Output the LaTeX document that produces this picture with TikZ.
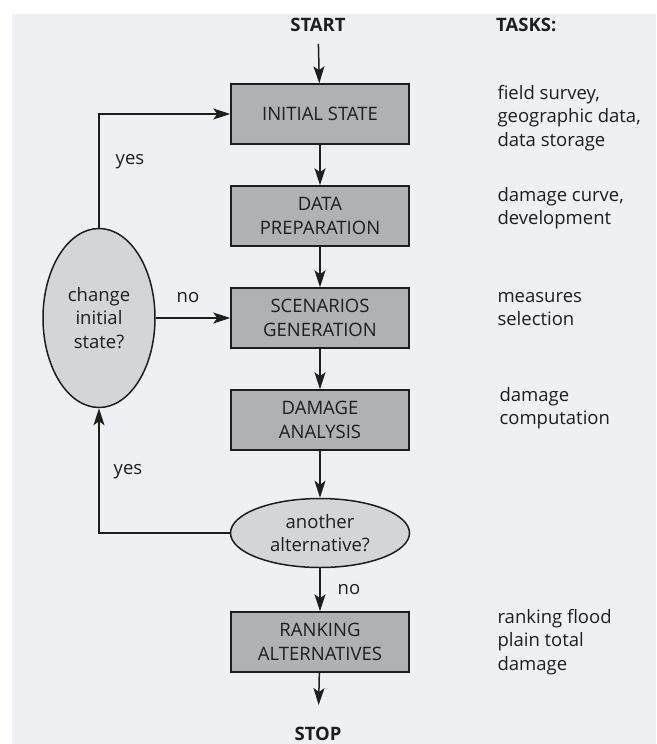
\documentclass[tikz,border=0pt]{standalone}
\usepackage{fontspec}
\setmainfont{Open Sans}
\usetikzlibrary{arrows.meta,shapes.geometric}

\definecolor{pagegray}{HTML}{EEF0F4}
\definecolor{boxgray}{HTML}{B0B1B5}
\definecolor{ovalgray}{HTML}{D3D5D9}
\definecolor{inkgray}{HTML}{1E1E1E}

\tikzset{
 stepbox/.style={draw=inkgray, line width=1.5pt, fill=boxgray, minimum width=178pt, minimum height=60pt, align=center, inner sep=0pt, text=inkgray},
 question/.style={ellipse, draw=inkgray, line width=1.5pt, fill=ovalgray, align=center, inner sep=0pt, text=inkgray},
 flow/.style={line width=1.5pt, draw=inkgray, -{Stealth[length=17pt,width=11pt,inset=4pt]}},
 task/.style={anchor=west, align=left, text=inkgray},
 tag/.style={text=inkgray},
 endpoint/.style={text=inkgray, inner sep=0pt, font=\fontsize{18.5}{23.5}\selectfont\bfseries},
}

\begin{document}
\begin{tikzpicture}[x=1pt, y=-1pt, font=\fontsize{18.5}{23.5}\selectfont]
\useasboundingbox (0,0) rectangle (656,744);
\fill[pagegray] (12,14) rectangle (656,744);

 \node[endpoint] at (318,25) (start) {START};
 \node[endpoint, anchor=west] at (496,25) (tasks) {TASKS:};

 \node[stepbox] at (320,114) (init) {INITIAL STATE};
 \node[stepbox] at (320,216) (prep) {DATA\\PREPARATION};
 \node[stepbox] at (320,318) (scen) {SCENARIOS\\GENERATION};
 \node[stepbox] at (320,420) (dam) {DAMAGE\\ANALYSIS};
 \node[question, minimum width=179pt, minimum height=69pt] at (320,533) (alt) {another\\alternative?};
 \node[stepbox] at (320,642) (rank) {RANKING\\ALTERNATIVES};
 \node[endpoint] at (318,734) (stop) {STOP};

 \node[question, minimum width=112pt, minimum height=179pt] at (99,318) (change) {change\\initial\\state?};

%tasks column
 \node[task] at (494,118) (t1) {field survey,\\geographic data,\\data storage};
 \node[task] at (494,208) (t2) {damage curve,\\development};
 \node[task] at (494,309) (t3) {measures\\selection};
 \node[task] at (496,408) (t4) {damage\\computation};
 \node[task] at (494,642) (t5) {ranking flood\\plain total\\damage};

 \draw[flow, shorten <=12pt] (start) -- (init);
 \draw[flow] (init) -- (prep);
 \draw[flow] (prep) -- (scen);
 \draw[flow] (scen) -- (dam);
 \draw[flow] (dam) -- (alt);
 \draw[flow] (alt) -- (rank);
 \draw[flow, shorten >=22pt] (rank) -- (stop);

 \draw[flow] (alt.west) -| (change.south);
 \draw[flow] (change.north) |- (init.west);
 \draw[flow] (change.east) -- (scen.west);

 \node[tag] at (130,162) (yes1) {yes};
 \node[tag] at (128,472) (yes2) {yes};
 \node[tag] at (188,298) (no1) {no};
 \node[tag] at (349,590) (no2) {no};
\end{tikzpicture}
\end{document}
